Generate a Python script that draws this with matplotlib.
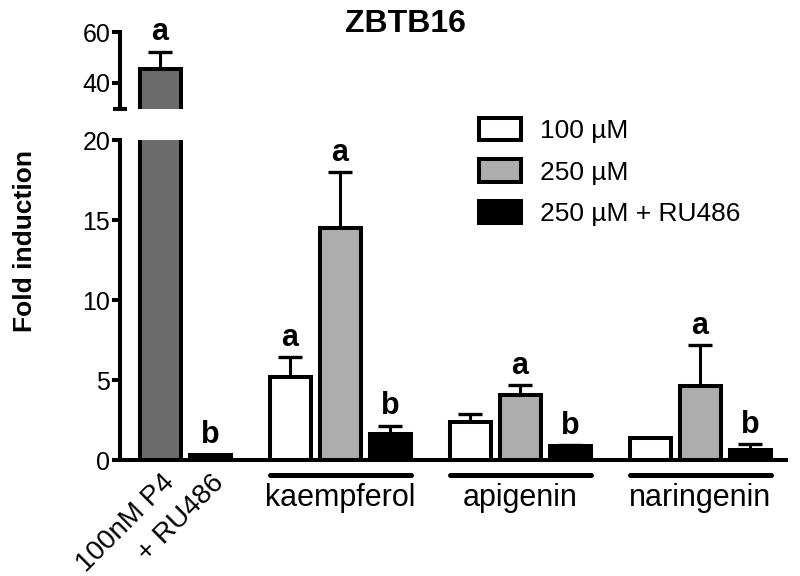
import matplotlib
matplotlib.use("Agg")
import matplotlib.pyplot as plt
from matplotlib.patches import Patch
import matplotlib.transforms as mtrans
import numpy as np

plt.rcParams['font.family'] = ['Liberation Sans', 'DejaVu Sans']

# ---- data ----
ctrl_labels = ['100nM P4', '+ RU486']
ctrl_vals = [45.5, 0.3]
ctrl_err = [6.5, 0.0]
ctrl_letters = ['a', 'b']

groups = ['kaempferol', 'apigenin', 'naringenin']
series_names = ['100 µM', '250 µM', '250 µM + RU486']
v100 = [5.2, 2.4, 1.4]
e100 = [1.25, 0.5, 0.0]
v250 = [14.5, 4.05, 4.6]
e250 = [3.5, 0.65, 2.6]
vru = [1.6, 0.85, 0.6]
eru = [0.55, 0.1, 0.4]
l100 = ['a', '', '']
l250 = ['a', 'a', 'a']
lru = ['b', 'b', 'b']

# ---- styles ----
ctrl_colors = ['#6b6b6b', 'black']
series_colors = ['white', '#adadad', 'black']
EDGE = 2.9
W = 0.82

fig = plt.figure(figsize=(8, 5.76), dpi=100)
ax = fig.add_axes([120/800, 116/576, 666/800, 320/576])
axu = fig.add_axes([120/800, 467.5/576, 666/800, 76.5/576])

xlim = (-0.8, 12.52)

def draw(a, xs, vals, errs, colors):
    a.errorbar(xs, vals, yerr=[np.zeros(len(errs)), errs], fmt='none', ecolor='black',
               elinewidth=2.2, capsize=8.5, capthick=2.4, zorder=1)
    a.bar(xs, vals, width=W, color=colors, edgecolor='black', linewidth=EDGE, zorder=2)

ctrl_x = np.arange(len(ctrl_vals), dtype=float)
for a in (ax, axu):
    draw(a, ctrl_x, ctrl_vals, ctrl_err, ctrl_colors)

series_vals = [v100, v250, vru]
series_errs = [e100, e250, eru]
series_letters = [l100, l250, lru]
group_start = 2.6 + 3.6 * np.arange(len(groups))
for i in range(3):
    xs = group_start + i
    draw(ax, xs, series_vals[i], series_errs[i], [series_colors[i]] * len(groups))
    for x, v, e, lt in zip(xs, series_vals[i], series_errs[i], series_letters[i]):
        if lt:
            ax.annotate(lt, (x, v + e), xytext=(0, 8), textcoords='offset points',
                        ha='center', va='baseline', fontsize=22, fontweight='bold')

for x, v, e, lt in zip(ctrl_x, ctrl_vals, ctrl_err, ctrl_letters):
    a = axu if v > 20 else ax
    a.annotate(lt, (x, v + e), xytext=(0, 9), textcoords='offset points',
               ha='center', va='baseline', fontsize=22, fontweight='bold', annotation_clip=False)

# lower axes
ax.set_xlim(*xlim)
ax.set_ylim(0, 20)
ax.set_yticks([0, 5, 10, 15, 20])
ax.set_xticks([])
for s in ['top', 'right']:
    ax.spines[s].set_visible(False)
for s in ['left', 'bottom']:
    ax.spines[s].set_linewidth(2.9)
ax.tick_params(axis='y', length=6, width=2.9, labelsize=18, pad=1)

# upper axes
axu.set_xlim(*xlim)
axu.set_ylim(30, 60)
axu.set_yticks([40, 60])
axu.set_yticks([30], minor=True)
axu.set_xticks([])
for s in ['top', 'right', 'bottom']:
    axu.spines[s].set_visible(False)
axu.spines['left'].set_linewidth(2.9)
axu.tick_params(axis='y', which='major', length=6, width=2.9, labelsize=18, pad=1)
axu.tick_params(axis='y', which='minor', length=10, width=2.9, direction='inout')
axu.patch.set_visible(False)

# group underlines and labels
trans = mtrans.blended_transform_factory(ax.transData, ax.transAxes)
for g, name in enumerate(groups):
    x0 = group_start[g] - W / 2
    x1 = group_start[g] + 2 + W / 2
    ax.plot([x0, x1], [-0.047, -0.047], transform=trans, color='black', lw=3.6,
            solid_capstyle='round', clip_on=False)
    ax.text(group_start[g] + 1, -0.144, name, transform=trans, ha='center', va='baseline',
            fontsize=22)

for x, lab in zip(ctrl_x, ctrl_labels):
    ax.text(x + 0.02, -0.03, lab, transform=trans, rotation=45, rotation_mode='anchor',
            ha='right', va='top', fontsize=20)

# legend
handles = [Patch(facecolor=c, edgecolor='black', linewidth=EDGE) for c in series_colors]
ax.legend(handles, series_names, loc='upper left', bbox_to_anchor=(479/800, 1 - 118/576),
          bbox_transform=fig.transFigure, frameon=False, fontsize=19, handlelength=1.6,
          handleheight=0.91, handletextpad=0.72, labelspacing=0.62, borderpad=0,
          borderaxespad=0)

fig.text(405/800, 1 - 24/576, 'ZBTB16', ha='center', va='center', fontsize=23, fontweight='bold')
fig.text(25/800, 1 - 241/576, 'Fold induction', ha='center', va='center', rotation=90,
         fontsize=19, fontweight='bold')

fig.savefig('out.png', dpi=100)
